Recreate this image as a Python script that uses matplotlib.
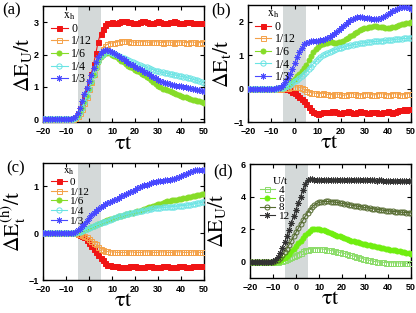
import numpy as np
import matplotlib
matplotlib.use('Agg')
import matplotlib.pyplot as plt
from matplotlib.lines import Line2D

plt.rcParams['mathtext.fontset'] = 'stix'
plt.rcParams['font.family'] = ['Liberation Serif', 'DejaVu Serif']

# time grid (tau*t)
tau_t = np.arange(-20, 51, 1)

# ---------------- panel (a): Delta E_U / t ----------------
a_labels = ['0', '1/12', '1/6', '1/4', '1/3']
a_x0 = [0, 0, 0, 0, 0, 0, 0, 0, 0, 0,
        0, 0, 0.01, 0.03, 0.08, 0.17, 0.32, 0.5, 0.7, 0.92,
        1.15, 1.4, 1.7, 2.05, 2.4, 2.65, 2.8, 2.9, 2.96, 2.98,
        3.0, 2.98, 2.97, 3.0, 3.03, 3.05, 3.04, 3.02, 3.0, 2.98,
        2.97, 2.99, 3.02, 3.04, 3.03, 3.0, 2.98, 2.97, 2.99, 3.02,
        3.03, 3.02, 2.99, 2.97, 2.97, 3.0, 3.02, 3.03, 3.01, 2.98,
        2.97, 2.98, 3.01, 3.02, 3.01, 2.98, 2.96, 2.96, 2.98, 2.98,
        2.96]
a_x12 = [0, 0, 0, 0, 0, 0, 0, 0, 0, 0,
         0, 0, 0.01, 0.02, 0.05, 0.1, 0.2, 0.33, 0.5, 0.7,
         0.92, 1.15, 1.4, 1.65, 1.87, 2.05, 2.18, 2.27, 2.32, 2.35,
         2.36, 2.37, 2.38, 2.4, 2.41, 2.42, 2.42, 2.41, 2.4, 2.39,
         2.38, 2.38, 2.39, 2.4, 2.4, 2.39, 2.38, 2.38, 2.39, 2.4,
         2.39, 2.38, 2.37, 2.38, 2.39, 2.39, 2.38, 2.37, 2.38, 2.39,
         2.39, 2.38, 2.37, 2.37, 2.38, 2.39, 2.38, 2.37, 2.37, 2.38,
         2.37]
a_x6 = [0, 0, 0, 0, 0, 0, 0, 0, 0, 0,
        0, 0, 0.01, 0.02, 0.05, 0.11, 0.21, 0.35, 0.52, 0.71,
        0.92, 1.14, 1.37, 1.58, 1.77, 1.91, 2.0, 2.05, 2.06, 2.04,
        2.0, 1.96, 1.91, 1.86, 1.81, 1.76, 1.71, 1.66, 1.61, 1.57,
        1.53, 1.49, 1.45, 1.41, 1.37, 1.32, 1.26, 1.2, 1.14, 1.08,
        1.03, 0.99, 0.95, 0.92, 0.89, 0.86, 0.83, 0.8, 0.77, 0.74,
        0.72, 0.7, 0.68, 0.66, 0.64, 0.61, 0.59, 0.57, 0.55, 0.53,
        0.51]
a_x4 = [0, 0, 0, 0, 0, 0, 0, 0, 0, 0,
        0, 0, 0.01, 0.02, 0.05, 0.11, 0.21, 0.35, 0.53, 0.73,
        0.95, 1.18, 1.41, 1.62, 1.8, 1.94, 2.03, 2.08, 2.1, 2.09,
        2.06, 2.03, 1.99, 1.96, 1.92, 1.89, 1.85, 1.82, 1.79, 1.76,
        1.73, 1.7, 1.68, 1.65, 1.63, 1.6, 1.58, 1.55, 1.53, 1.5,
        1.48, 1.46, 1.45, 1.43, 1.42, 1.4, 1.39, 1.37, 1.36, 1.34,
        1.33, 1.31, 1.3, 1.28, 1.26, 1.24, 1.22, 1.2, 1.17, 1.15,
        1.12]
a_x3 = [0, 0, 0, 0, 0, 0, 0, 0, 0, 0,
        0, 0, 0.01, 0.03, 0.07, 0.18, 0.35, 0.55, 0.77, 0.98,
        1.18, 1.38, 1.58, 1.77, 1.93, 2.05, 2.12, 2.15, 2.14, 2.11,
        2.08, 2.04, 2.0, 1.95, 1.9, 1.85, 1.8, 1.75, 1.71, 1.67,
        1.63, 1.59, 1.55, 1.51, 1.47, 1.43, 1.39, 1.34, 1.3, 1.26,
        1.22, 1.19, 1.16, 1.13, 1.11, 1.09, 1.07, 1.05, 1.04, 1.03,
        1.02, 1.0, 0.99, 0.97, 0.96, 0.94, 0.93, 0.91, 0.9, 0.88,
        0.87]

# ---------------- panel (b): Delta E_t / t ----------------
b_x0 = [0, 0, 0, 0, 0, 0, 0, 0, 0, 0,
        0, 0, 0, 0, 0, 0, -0.01, -0.02, -0.05, -0.09,
        -0.14, -0.19, -0.24, -0.3, -0.37, -0.45, -0.55, -0.64, -0.7, -0.74,
        -0.75, -0.73, -0.71, -0.7, -0.71, -0.7, -0.67, -0.66, -0.69, -0.72,
        -0.73, -0.71, -0.69, -0.68, -0.7, -0.72, -0.72, -0.7, -0.68, -0.69,
        -0.71, -0.73, -0.72, -0.7, -0.69, -0.7, -0.72, -0.73, -0.71, -0.69,
        -0.68, -0.7, -0.72, -0.71, -0.68, -0.65, -0.63, -0.62, -0.63, -0.62,
        -0.6]
b_x12 = [0, 0, 0, 0, 0, 0, 0, 0, 0, 0,
         0, 0, 0, 0, 0, 0.01, 0.02, 0.03, 0.04, 0.05,
         0.05, 0.05, 0.04, 0.02, -0.02, -0.06, -0.1, -0.12, -0.13, -0.14,
         -0.15, -0.15, -0.14, -0.15, -0.17, -0.18, -0.18, -0.17, -0.16, -0.17,
         -0.19, -0.2, -0.19, -0.17, -0.15, -0.15, -0.17, -0.19, -0.19, -0.18,
         -0.16, -0.15, -0.16, -0.18, -0.19, -0.18, -0.16, -0.15, -0.16, -0.18,
         -0.19, -0.18, -0.16, -0.15, -0.16, -0.18, -0.19, -0.18, -0.16, -0.15,
         -0.16]
b_x6 = [0, 0, 0, 0, 0, 0, 0, 0, 0, 0,
        0, 0, 0, 0.01, 0.02, 0.03, 0.06, 0.1, 0.16, 0.23,
        0.3, 0.37, 0.44, 0.52, 0.61, 0.72, 0.85, 0.98, 1.08, 1.17,
        1.24, 1.29, 1.33, 1.36, 1.37, 1.38, 1.38, 1.37, 1.37, 1.38,
        1.4, 1.43, 1.47, 1.51, 1.56, 1.61, 1.66, 1.7, 1.74, 1.77,
        1.8, 1.82, 1.84, 1.85, 1.86, 1.86, 1.85, 1.84, 1.83, 1.82,
        1.82, 1.82, 1.83, 1.85, 1.87, 1.9, 1.92, 1.94, 1.96, 1.97,
        1.98]
b_x4 = [0, 0, 0, 0, 0, 0, 0, 0, 0, 0,
        0, 0, 0, 0.01, 0.02, 0.03, 0.05, 0.08, 0.12, 0.17,
        0.22, 0.27, 0.32, 0.38, 0.44, 0.5, 0.58, 0.66, 0.74, 0.81,
        0.88, 0.94, 0.99, 1.03, 1.07, 1.1, 1.13, 1.16, 1.18, 1.2,
        1.22, 1.24, 1.26, 1.28, 1.29, 1.31, 1.32, 1.33, 1.35, 1.36,
        1.37, 1.38, 1.39, 1.4, 1.41, 1.41, 1.42, 1.43, 1.43, 1.44,
        1.45, 1.45, 1.46, 1.47, 1.48, 1.48, 1.49, 1.5, 1.5, 1.51,
        1.51]
b_x3 = [0, 0, 0, 0, 0, 0, 0, 0, 0, 0,
        0, 0, 0.01, 0.03, 0.06, 0.12, 0.2, 0.31, 0.44, 0.59,
        0.76, 0.93, 1.09, 1.22, 1.32, 1.37, 1.4, 1.41, 1.42, 1.42,
        1.43, 1.44, 1.45, 1.47, 1.5, 1.54, 1.59, 1.64, 1.7, 1.76,
        1.82, 1.88, 1.94, 1.99, 2.04, 2.08, 2.11, 2.13, 2.13, 2.13,
        2.12, 2.11, 2.1, 2.09, 2.08, 2.08, 2.09, 2.11, 2.14, 2.18,
        2.22, 2.27, 2.31, 2.35, 2.39, 2.42, 2.44, 2.45, 2.44, 2.42,
        2.39]

# ---------------- panel (c): Delta E_t^(h) / t ----------------
c_x0 = [0, 0, 0, 0, 0, 0, 0, 0, 0, 0,
        0, 0, 0, 0, -0.005, -0.01, -0.03, -0.05, -0.09, -0.14,
        -0.2, -0.27, -0.34, -0.4, -0.46, -0.52, -0.58, -0.63, -0.67, -0.69,
        -0.7, -0.71, -0.71, -0.72, -0.72, -0.72, -0.72, -0.72, -0.71, -0.71,
        -0.71, -0.72, -0.72, -0.72, -0.72, -0.71, -0.71, -0.71, -0.72, -0.72,
        -0.72, -0.72, -0.71, -0.71, -0.71, -0.72, -0.72, -0.72, -0.72, -0.71,
        -0.71, -0.71, -0.72, -0.72, -0.72, -0.71, -0.71, -0.71, -0.71, -0.71,
        -0.71]
c_x12 = [0, 0, 0, 0, 0, 0, 0, 0, 0, 0,
         0, 0, 0, 0, -0.005, -0.01, -0.02, -0.04, -0.06, -0.09,
         -0.12, -0.16, -0.2, -0.24, -0.29, -0.33, -0.36, -0.38, -0.39, -0.4,
         -0.4, -0.4, -0.41, -0.41, -0.41, -0.41, -0.41, -0.4, -0.4, -0.4,
         -0.41, -0.41, -0.41, -0.41, -0.4, -0.4, -0.4, -0.41, -0.41, -0.41,
         -0.41, -0.4, -0.4, -0.4, -0.41, -0.41, -0.41, -0.41, -0.4, -0.4,
         -0.4, -0.41, -0.41, -0.41, -0.41, -0.4, -0.4, -0.4, -0.41, -0.41,
         -0.41]
c_x6 = [0, 0, 0, 0, 0, 0, 0, 0, 0, 0,
        0, 0, 0, 0.005, 0.01, 0.02, 0.03, 0.05, 0.07, 0.09,
        0.11, 0.13, 0.16, 0.18, 0.2, 0.22, 0.24, 0.26, 0.28, 0.3,
        0.31, 0.33, 0.34, 0.36, 0.37, 0.39, 0.4, 0.42, 0.43, 0.44,
        0.46, 0.47, 0.48, 0.5, 0.51, 0.53, 0.55, 0.57, 0.59, 0.6,
        0.62, 0.63, 0.65, 0.66, 0.68, 0.69, 0.7, 0.71, 0.72, 0.73,
        0.74, 0.75, 0.76, 0.77, 0.78, 0.79, 0.8, 0.81, 0.82, 0.83,
        0.84]
c_x4 = [0, 0, 0, 0, 0, 0, 0, 0, 0, 0,
        0, 0, 0, 0.005, 0.01, 0.02, 0.03, 0.05, 0.07, 0.09,
        0.11, 0.13, 0.15, 0.17, 0.19, 0.21, 0.23, 0.25, 0.27, 0.29,
        0.31, 0.33, 0.34, 0.36, 0.37, 0.39, 0.4, 0.42, 0.43, 0.44,
        0.45, 0.46, 0.47, 0.48, 0.49, 0.5, 0.51, 0.52, 0.53, 0.53,
        0.54, 0.54, 0.55, 0.55, 0.56, 0.56, 0.57, 0.57, 0.58, 0.58,
        0.59, 0.59, 0.6, 0.6, 0.61, 0.62, 0.63, 0.64, 0.65, 0.66,
        0.67]
c_x3 = [0, 0, 0, 0, 0, 0, 0, 0, 0, 0,
        0, 0, 0.005, 0.01, 0.03, 0.06, 0.1, 0.15, 0.2, 0.26,
        0.32, 0.38, 0.43, 0.48, 0.52, 0.56, 0.59, 0.62, 0.65, 0.67,
        0.69, 0.71, 0.74, 0.76, 0.79, 0.81, 0.83, 0.86, 0.88, 0.91,
        0.93, 0.96, 0.98, 1.0, 1.02, 1.04, 1.06, 1.08, 1.09, 1.1,
        1.11, 1.12, 1.12, 1.13, 1.13, 1.14, 1.15, 1.16, 1.18, 1.2,
        1.22, 1.24, 1.27, 1.29, 1.31, 1.33, 1.35, 1.36, 1.36, 1.36,
        1.36]

# ---------------- panel (d): Delta E_U / t for several U/t ----------------
d_labels = ['4', '6', '8', '12']
d_u4 = [0, 0, 0, 0, 0, 0, 0, 0, 0, 0,
        0, 0, 0.01, 0.03, 0.06, 0.1, 0.15, 0.21, 0.28, 0.35,
        0.42, 0.49, 0.56, 0.63, 0.69, 0.74, 0.78, 0.8, 0.81, 0.81,
        0.8, 0.79, 0.77, 0.75, 0.73, 0.7, 0.67, 0.64, 0.6, 0.57,
        0.54, 0.51, 0.47, 0.43, 0.39, 0.35, 0.31, 0.27, 0.23, 0.19,
        0.15, 0.11, 0.08, 0.05, 0.02, 0.0, -0.02, -0.03, -0.04, -0.05,
        -0.05, -0.06, -0.06, -0.07, -0.07, -0.08, -0.08, -0.09, -0.09, -0.1,
        -0.1]
d_u6 = [0, 0, 0, 0, 0, 0, 0, 0, 0, 0,
        0, 0.01, 0.03, 0.07, 0.14, 0.24, 0.36, 0.5, 0.65, 0.8,
        0.96, 1.13, 1.3, 1.48, 1.64, 1.78, 1.9, 1.98, 2.02, 2.03,
        2.01, 1.97, 1.92, 1.87, 1.82, 1.76, 1.71, 1.66, 1.6, 1.55,
        1.5, 1.45, 1.4, 1.35, 1.3, 1.26, 1.22, 1.18, 1.14, 1.11,
        1.08, 1.05, 1.02, 0.99, 0.96, 0.93, 0.9, 0.87, 0.84, 0.81,
        0.78, 0.75, 0.72, 0.69, 0.66, 0.64, 0.61, 0.59, 0.56, 0.53,
        0.5]
d_u8 = [0, 0, 0, 0, 0, 0, 0, 0, 0, 0,
        0.01, 0.04, 0.1, 0.23, 0.4, 0.6, 0.8, 1.05, 1.3, 1.55,
        1.8, 2.05, 2.3, 2.55, 2.78, 3.0, 3.2, 3.36, 3.49, 3.58,
        3.64, 3.67, 3.69, 3.7, 3.7, 3.69, 3.68, 3.66, 3.64, 3.61,
        3.58, 3.56, 3.53, 3.5, 3.48, 3.45, 3.43, 3.4, 3.38, 3.35,
        3.33, 3.31, 3.29, 3.26, 3.24, 3.22, 3.2, 3.18, 3.16, 3.14,
        3.12, 3.11, 3.09, 3.08, 3.06, 3.05, 3.04, 3.03, 3.02, 3.01,
        3.0]
d_u12 = [0, 0, 0, 0, 0, 0, 0, 0, 0, 0.01,
         0.04, 0.12, 0.3, 0.55, 0.85, 1.2, 1.55, 1.95, 2.4, 2.8,
         3.2, 3.6, 4.0, 4.4, 4.75, 5.0, 5.05, 5.05, 5.04, 5.03,
         5.03, 5.02, 5.02, 5.03, 5.03, 5.02, 5.02, 5.01, 5.01, 5.02,
         5.02, 5.01, 5.01, 5.0, 5.0, 5.01, 5.01, 5.0, 5.0, 4.99,
         4.99, 5.0, 5.0, 4.99, 4.99, 4.98, 4.99, 4.99, 4.98, 4.98,
         4.98, 4.98, 4.97, 4.97, 4.98, 4.98, 4.97, 4.97, 4.97, 4.97,
         4.97]

# ---------------- styles ----------------
ast = (8, 2, 0)
xh_styles = [
    dict(color='#f01515', marker='s', mfc='#f01515', ms=3.6),
    dict(color='#f4a24a', marker='s', mfc='none', ms=3.6),
    dict(color='#86dc28', marker='o', mfc='#86dc28', ms=3.6),
    dict(color='#6ae4e4', marker='o', mfc='none', ms=3.8),
    dict(color='#4848ff', marker=ast, mfc='none', ms=4.2),
]
u_styles = [
    dict(color='#8cdc6a', marker='s', mfc='none', ms=3.6),
    dict(color='#70ee10', marker='o', mfc='#70ee10', ms=3.6),
    dict(color='#556b2f', marker='o', mfc='none', ms=3.6),
    dict(color='#333333', marker=ast, mfc='none', ms=4.2),
]

fig = plt.figure(figsize=(4.16, 3.13), dpi=100)
W, H = 416.0, 313.0


def make_ax(x0, x1, ytop, ybot):
    return fig.add_axes([x0 / W, 1 - ybot / H, (x1 - x0) / W, (ybot - ytop) / H])


def style_ax(ax, ylim, yticks, ylabel, tag, tag_xy, ypad=0):
    ax.axvspan(-5, 5, color='#d4d9d9', zorder=0, lw=0)
    ax.set_xlim(-20, 50)
    ax.set_ylim(*ylim)
    ax.set_xticks([-20, -10, 0, 10, 20, 30, 40, 50])
    ax.set_yticks(yticks)
    ax.tick_params(direction='in', length=3, width=0.8, top=True, right=True,
                   labelsize=6.5)
    ax.tick_params(axis='x', pad=3.5)
    ax.tick_params(axis='y', pad=3)
    for lab in ax.get_xticklabels() + ax.get_yticklabels():
        lab.set_family('Liberation Sans')
        lab.set_fontweight('bold')
    for s in ax.spines.values():
        s.set_linewidth(1.0)
    ax.set_xlabel(r'$\mathrm{\tau t}$', fontsize=16, labelpad=-1)
    ax.set_ylabel(ylabel, fontsize=15.5, labelpad=ypad)
    fig.text(tag_xy[0] / W, 1 - tag_xy[1] / H, tag, fontsize=12,
             ha='left', va='top')


def draw(ax, series, styles, labels, title, leg_x, leg_y, fs=8.5, sp=0.05):
    handles = []
    for y, st, lab in zip(series, styles, labels):
        ax.plot(tau_t, y, lw=0.8, mew=0.7, zorder=3, **st)
        handles.append(Line2D([], [], lw=0.8, mew=0.7, **st))
    leg = ax.legend(handles, labels, loc='upper left', bbox_to_anchor=(leg_x, leg_y),
                    frameon=False, fontsize=fs, handlelength=1.4, handletextpad=0.3,
                    labelspacing=sp, borderpad=0, borderaxespad=0,
                    title=title, title_fontsize=fs)
    leg._legend_box.align = 'left'
    leg.get_title().set_position((12, 0))
    return leg


# panel (a)
ax_a = make_ax(43, 204, 6, 122.5)
draw(ax_a, [a_x0, a_x12, a_x6, a_x4, a_x3], xh_styles, a_labels,
     r'$\mathrm{x_h}$', 0.05, 0.97)
style_ax(ax_a, (-0.1, 3.5), [0, 1, 2, 3], r'$\Delta\mathrm{E_U/t}$', '(a)', (2, 2))

# panel (b)
ax_b = make_ax(248, 411, 5, 122)
draw(ax_b, [b_x0, b_x12, b_x6, b_x4, b_x3], xh_styles, a_labels,
     r'$\mathrm{x_h}$', 0.04, 0.98)
style_ax(ax_b, (-1, 2.5), [-1, 0, 1, 2], r'$\Delta\mathrm{E_t/t}$', '(b)', (211, 2))

# panel (c)
ax_c = make_ax(43, 204, 163, 280)
draw(ax_c, [c_x0, c_x12, c_x6, c_x4, c_x3], xh_styles, a_labels,
     r'$\mathrm{x_h}$', 0.05, 0.97, fs=8, sp=0.0)
style_ax(ax_c, (-1, 1.5), [-1, 0, 1], r'$\Delta\mathrm{E_t^{(h)}/t}$', '(c)', (6, 160))

# panel (d)
ax_d = make_ax(250, 411, 164, 278)
draw(ax_d, [d_u4, d_u6, d_u8, d_u12], u_styles, d_labels,
     r'$\mathrm{U/t}$', 0.06, 0.9, fs=8, sp=-0.1)
style_ax(ax_d, (-1, 6), [0, 2, 4, 6], r'$\Delta\mathrm{E_U/t}$', '(d)', (213, 163), ypad=9)

fig.savefig('out.png', dpi=100)
